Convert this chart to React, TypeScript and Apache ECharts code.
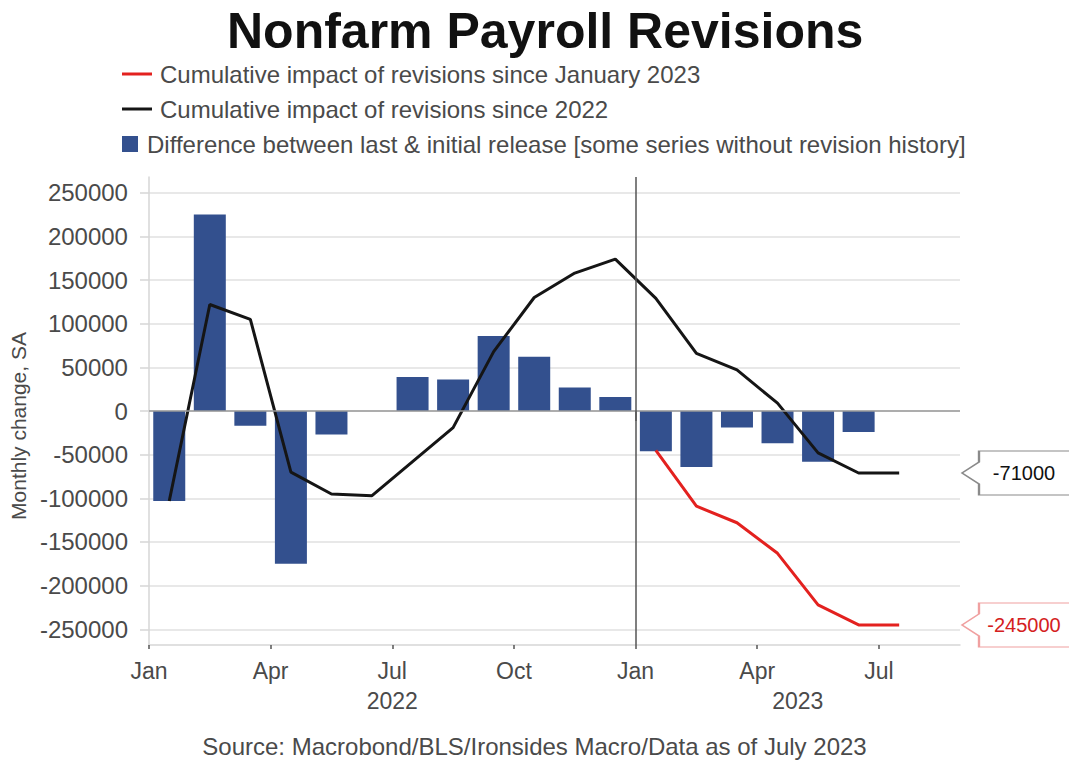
import React, { useEffect, useRef } from "react";
import * as echarts from "echarts";

// ---------- DATA ----------
const titleText = "Nonfarm Payroll Revisions";
const sourceText = "Source: Macrobond/BLS/Ironsides Macro/Data as of July 2023";
const yAxisName = "Monthly change, SA";

const seriesNames = {
  red: "Cumulative impact of revisions since January 2023",
  black: "Cumulative impact of revisions since 2022",
  bars: "Difference between last & initial release [some series without revision history]",
};

// months counted from Jan 2022 (index 0) ; each value sits mid-month
const barMonths = [0, 1, 2, 3, 4, 5, 6, 7, 8, 9, 10, 11, 12, 13, 14, 15, 16, 17];
const barValues = [
  -103000, 225000, -17000, -175000, -27000, null, 39000, 36000, 86000, 62000, 27000, 16000,
  -46000, -64000, -19000, -37000, -58000, -24000,
];

const blackMonths = [0, 1, 2, 3, 4, 5, 6, 7, 8, 9, 10, 11, 12, 13, 14, 15, 16, 17, 18];
const blackValues = [
  -103000, 122000, 105000, -70000, -95000, -97000, -58000, -19000, 68000, 130000, 158000, 174000,
  129000, 66000, 47000, 9000, -48000, -71000, -71000,
];

const redMonths = [12, 13, 14, 15, 16, 17, 18];
const redValues = [-45000, -109000, -128000, -163000, -222000, -245000, -245000];

const xMin = 0;
const xMax = 20;
const xTickMonths = [0, 3, 6, 9, 12, 15, 18];
const xTickLabels = ["Jan", "Apr", "Jul", "Oct", "Jan", "Apr", "Jul"];
const yearMonths = [6, 16];
const yearLabels = ["2022", "2023"];
const dividerMonth = 12;

const yMin = -268000;
const yMax = 268000;
const yTicks = [-250000, -200000, -150000, -100000, -50000, 0, 50000, 100000, 150000, 200000, 250000];

// ---------- STYLE ----------
const FONT = "'Liberation Sans', Arial, sans-serif";
const TEXT = "#4a4a4a";
const BAR = "#33508e";
const RED = "#e3211f";
const BLACK = "#151515";

const calloutPath = "path://M0 22 L17 11 L17 0 L110 0 L110 44 L17 44 L17 33 Z";

export default function App() {
  const ref = useRef<HTMLDivElement>(null);

  useEffect(() => {
    if (!ref.current) return;
    const chart = echarts.init(ref.current, undefined, { renderer: "svg" });

    const mid = (m: number) => m + 0.5;
    const barData = barMonths.map((m, i) => [mid(m), barValues[i]]);
    const blackData = blackMonths.map((m, i) => [mid(m), blackValues[i]]);
    const redData = redMonths.map((m, i) => [mid(m), redValues[i]]);
    const lastBlack = blackValues[blackValues.length - 1];
    const lastRed = redValues[redValues.length - 1];

    const callout = (value: number, textColor: string, border: string) => ({
      silent: true,
      symbol: calloutPath,
      symbolSize: [110, 44],
      symbolOffset: [57, 0],
      symbolKeepAspect: false,
      itemStyle: { color: "#ffffff", borderColor: border, borderWidth: 1.5 },
      label: {
        show: true,
        position: "inside",
        offset: [7, 0],
        color: textColor,
        fontFamily: FONT,
        fontSize: 20,
        formatter: () => String(value),
      },
      data: [{ coord: [xMax, value], value }],
    });

    const legendBase = {
      left: 117,
      orient: "horizontal",
      selectedMode: false,
      icon: "rect",
      textStyle: { fontFamily: FONT, fontSize: 24, color: TEXT, padding: [0, 0, 0, 3] },
    };

    chart.setOption({
      animation: false,
      backgroundColor: "#ffffff",
      title: [
        {
          text: titleText,
          left: 222,
          top: 1,
          textStyle: { fontFamily: FONT, fontSize: 50, fontWeight: "bold", color: "#111111" },
        },
        {
          text: sourceText,
          left: "center",
          top: 729,
          textStyle: { fontFamily: FONT, fontSize: 24, fontWeight: "normal", color: TEXT },
        },
      ],
      legend: [
        { ...legendBase, top: 57, itemWidth: 30, itemHeight: 3, data: [seriesNames.red] },
        { ...legendBase, top: 92, itemWidth: 30, itemHeight: 3, data: [seriesNames.black] },
        {
          ...legendBase,
          top: 127,
          itemWidth: 16,
          itemHeight: 16,
          data: [seriesNames.bars],
          textStyle: { ...legendBase.textStyle, padding: [0, 0, 0, 4] },
        },
      ],
      grid: { left: 148, right: 109, top: 177, bottom: 116, containLabel: false },
      xAxis: [
        {
          type: "value",
          min: xMin,
          max: xMax,
          position: "bottom",
          axisLine: { show: true, onZero: false, lineStyle: { color: "#d6d6d6", width: 1.5 } },
          axisTick: {
            show: true,
            customValues: xTickMonths,
            length: 4,
            lineStyle: { color: "#555555", width: 1.5 },
          },
          axisLabel: {
            customValues: xTickMonths,
            margin: 14,
            fontFamily: FONT,
            fontSize: 23,
            color: TEXT,
            formatter: (v: number) => xTickLabels[xTickMonths.indexOf(v)] ?? "",
          },
          splitLine: { show: false },
        },
        {
          type: "value",
          min: xMin,
          max: xMax,
          position: "bottom",
          axisLine: { show: false },
          axisTick: {
            show: true,
            customValues: [dividerMonth],
            length: 10,
            lineStyle: { color: "#555555", width: 1.5 },
          },
          axisLabel: {
            customValues: yearMonths,
            margin: 44,
            fontFamily: FONT,
            fontSize: 23,
            color: TEXT,
            formatter: (v: number) => yearLabels[yearMonths.indexOf(v)] ?? "",
          },
          splitLine: { show: false },
        },
      ],
      yAxis: {
        type: "value",
        min: yMin,
        max: yMax,
        name: yAxisName,
        nameLocation: "middle",
        nameGap: 116,
        nameTextStyle: { fontFamily: FONT, fontSize: 21, color: TEXT, padding: [0, 0, 0, -30] },
        axisLine: { show: true, lineStyle: { color: "#d6d6d6", width: 1.5 } },
        axisTick: { show: true, customValues: yTicks, length: 9, lineStyle: { color: "#d6d6d6", width: 1.5 } },
        axisLabel: {
          customValues: yTicks,
          margin: 21,
          fontFamily: FONT,
          fontSize: 24,
          color: TEXT,
          formatter: (v: number) => String(v),
        },
        splitLine: { show: true, lineStyle: { color: "#e0e0e0", width: 1.5 } },
      },
      series: [
        {
          name: seriesNames.bars,
          type: "bar",
          xAxisIndex: 0,
          data: barData,
          barWidth: 32,
          itemStyle: { color: BAR },
          markLine: {
            silent: true,
            symbol: "none",
            label: { show: false },
            data: [
              { yAxis: 0, lineStyle: { color: "#9a9a9a", width: 1.5, type: "solid" } },
              { xAxis: dividerMonth, lineStyle: { color: "#555555", width: 1.5, type: "solid" } },
            ],
          },
          z: 2,
        },
        {
          name: seriesNames.black,
          type: "line",
          xAxisIndex: 0,
          data: blackData,
          showSymbol: false,
          color: BLACK,
          lineStyle: { color: BLACK, width: 3 },
          markPoint: callout(lastBlack, "#111111", "#8a8a8a"),
          z: 4,
        },
        {
          name: seriesNames.red,
          type: "line",
          xAxisIndex: 0,
          data: redData,
          showSymbol: false,
          color: RED,
          lineStyle: { color: RED, width: 3 },
          markPoint: callout(lastRed, "#d42020", "#f0a0a0"),
          z: 5,
        },
      ],
    });

    return () => chart.dispose();
  }, []);

  return (
    <div
      ref={ref}
      style={{ position: "fixed", left: 0, top: 0, width: 1069, height: 761, background: "#fff" }}
    />
  );
}
